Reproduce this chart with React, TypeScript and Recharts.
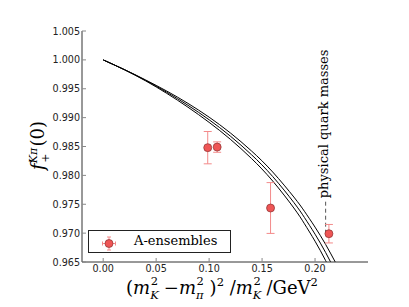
import { ComposedChart, Line, Scatter, ErrorBar, XAxis, YAxis, ReferenceLine } from 'recharts';

// lattice fit band (upper / central / lower)
const xGrid = [0, 0.02, 0.04, 0.06, 0.08, 0.1, 0.12, 0.14, 0.16, 0.18, 0.19, 0.2, 0.21, 0.22];
const fitUpper = [1.0, 0.99833, 0.99653, 0.9946, 0.99247, 0.99008, 0.98736, 0.98423, 0.98059, 0.97625, 0.97378, 0.97104, 0.96804, 0.96469];
const fitCentral = [1.0, 0.99831, 0.99645, 0.9944, 0.99214, 0.98963, 0.98681, 0.98358, 0.97981, 0.9753, 0.9727, 0.96982, 0.96664, 0.96309];
const fitLower = [1.0, 0.99829, 0.99637, 0.9942, 0.99181, 0.98918, 0.98626, 0.98293, 0.97903, 0.97435, 0.97162, 0.9686, 0.96524, 0.96149];

// A-ensembles
const ensX = [0.0987, 0.1076, 0.158, 0.2131];
const ensF = [0.9848, 0.9849, 0.97435, 0.9699];
const ensErr = [0.0028, 0.0009, 0.0044, 0.0016];

const xTicks = [0, 0.05, 0.1, 0.15, 0.2];
const yTicks = [0.965, 0.97, 0.975, 0.98, 0.985, 0.99, 0.995, 1.0, 1.005];

const physX = 0.21;
const physRange = [0.9699, 0.9757];

const curveRows = xGrid.map((x, i) => ({ x, upper: fitUpper[i], mid: fitCentral[i], lower: fitLower[i] }));
const ensRows = ensX.map((x, i) => ({ x, y: ensF[i], err: ensErr[i] }));

const TICK_COLOR = '#888';
const FRAME = '#333';
const tickFont = { fontFamily: 'DejaVu Sans', fontSize: 9.6, fill: '#222' };
const serif = 'DejaVu Serif';

const LeftTick = ({ x, y, payload }: any) => (
  <g>
    <line x1={x} x2={x + 4} y1={y} y2={y} stroke={TICK_COLOR} />
    <text x={x - 2} y={y + 3.5} textAnchor="end" {...tickFont}>
      {payload.value.toFixed(3)}
    </text>
  </g>
);

const BottomTick = ({ x, y, payload }: any) => (
  <g>
    <line x1={x} x2={x} y1={y} y2={y - 4} stroke={TICK_COLOR} />
    <text x={x} y={y + 10} textAnchor="middle" {...tickFont}>
      {payload.value.toFixed(2)}
    </text>
  </g>
);

const TopTick = ({ x, y }: any) => <line x1={x} x2={x} y1={y} y2={y + 4} stroke={TICK_COLOR} />;
const RightTick = ({ x, y }: any) => <line x1={x} x2={x - 4} y1={y} y2={y} stroke={TICK_COLOR} />;

// m with stacked sub/superscript, mathtext style
const XLabel = ({ viewBox }: any) => {
  const cx = viewBox.x + viewBox.width / 2 - 3;
  const by = viewBox.y + 32;
  const small = 11.5;
  return (
    <text x={cx} y={by} textAnchor="middle" fontFamily={serif} fontSize={18} fill="#000">
      (<tspan fontStyle="italic">m</tspan>
      <tspan fontSize={small} fontStyle="italic" dy={5}>K</tspan>
      <tspan fontSize={small} dx={-8} dy={-14}>2</tspan>
      <tspan dy={9}> −</tspan>
      <tspan fontStyle="italic">m</tspan>
      <tspan fontSize={small} fontStyle="italic" dy={5}>π</tspan>
      <tspan fontSize={small} dx={-7} dy={-14}>2</tspan>
      <tspan dy={9}> )</tspan>
      <tspan fontSize={small} dy={-8}>2</tspan>
      <tspan dy={8}> /</tspan>
      <tspan fontStyle="italic">m</tspan>
      <tspan fontSize={small} fontStyle="italic" dy={5}>K</tspan>
      <tspan fontSize={small} dx={-8} dy={-14}>2</tspan>
      <tspan dy={9}> /GeV</tspan>
      <tspan fontSize={small} dy={-8}>2</tspan>
    </text>
  );
};

const YLabel = ({ viewBox }: any) => {
  const bx = 44;
  const cy = viewBox.y + viewBox.height / 2 - 1;
  const small = 11;
  return (
    <text
      x={bx}
      y={cy}
      transform={`rotate(-90 ${bx} ${cy})`}
      textAnchor="middle"
      fontFamily={serif}
      fontSize={18}
      fill="#000"
    >
      <tspan fontStyle="italic">f</tspan>
      <tspan fontSize={small} fontStyle="italic" dy={-7}>Kπ</tspan>
      <tspan fontSize={small} dx={-15} dy={12}>+</tspan>
      <tspan dx={7} dy={-5}>(0)</tspan>
    </text>
  );
};

const PhysLabel = ({ viewBox }: any) => {
  const tx = viewBox.x + 2.5;
  const ty = viewBox.y - 2;
  return (
    <text
      x={tx}
      y={ty}
      transform={`rotate(-90 ${tx} ${ty})`}
      textAnchor="start"
      fontFamily={serif}
      fontSize={13}
      fill="#000"
    >
      physical quark masses
    </text>
  );
};

const EnsDot = ({ cx, cy }: any) => <circle cx={cx} cy={cy} r={4} fill="#ef5555" stroke="#8a3030" strokeWidth={0.7} />;

export default function App() {
  return (
    <div style={{ position: 'relative', width: 409, height: 307 }}>
      <style>{`body{margin:0;}`}</style>
      <ComposedChart width={409} height={307} data={curveRows} margin={{ top: 31, right: 41, bottom: 0, left: 0 }}>
        <XAxis
          dataKey="x"
          type="number"
          domain={[-0.02, 0.25]}
          ticks={xTicks}
          allowDataOverflow
          height={45}
          tickSize={0}
          tickMargin={0}
          tick={<BottomTick />}
          axisLine={{ stroke: FRAME }}
          label={<XLabel />}
        />
        <XAxis
          xAxisId="top"
          dataKey="x"
          type="number"
          orientation="top"
          domain={[-0.02, 0.25]}
          ticks={xTicks}
          allowDataOverflow
          height={0}
          tickSize={0}
          tickMargin={0}
          tick={<TopTick />}
          axisLine={{ stroke: FRAME }}
        />
        <YAxis
          type="number"
          domain={[0.965, 1.005]}
          ticks={yTicks}
          allowDataOverflow
          width={82}
          tickSize={0}
          tickMargin={0}
          tick={<LeftTick />}
          axisLine={{ stroke: FRAME }}
          label={<YLabel />}
        />
        <YAxis
          yAxisId="right"
          type="number"
          orientation="right"
          domain={[0.965, 1.005]}
          ticks={yTicks}
          allowDataOverflow
          width={0}
          tickSize={0}
          tickMargin={0}
          tick={<RightTick />}
          axisLine={{ stroke: FRAME }}
        />
        <Line xAxisId="top" yAxisId="right" dataKey="mid" stroke="none" dot={false} isAnimationActive={false} />
        <Line type="natural" dataKey="upper" stroke="#000" strokeWidth={1} dot={false} isAnimationActive={false} />
        <Line type="natural" dataKey="mid" stroke="#000" strokeWidth={1} dot={false} isAnimationActive={false} />
        <Line type="natural" dataKey="lower" stroke="#000" strokeWidth={1} dot={false} isAnimationActive={false} />
        <ReferenceLine
          segment={[
            { x: physX, y: physRange[0] },
            { x: physX, y: physRange[1] },
          ]}
          stroke="#555"
          strokeDasharray="4 3"
          label={PhysLabel}
        />
        <Scatter data={ensRows} dataKey="y" shape={<EnsDot />} isAnimationActive={false}>
          <ErrorBar dataKey="err" direction="y" width={4} stroke="#f38a8a" strokeWidth={1} />
        </Scatter>
      </ComposedChart>
      <div
        style={{
          position: 'absolute',
          left: 88,
          top: 230,
          width: 141,
          height: 21,
          border: '1px solid #222',
          background: '#fff',
        }}
      >
        <svg width={40} height={21} style={{ position: 'absolute', left: 0, top: 0 }}>
          <line x1={13.5} x2={26.5} y1={12.5} y2={12.5} stroke="#f38a8a" />
          <line x1={20} x2={20} y1={6} y2={19} stroke="#f38a8a" />
          <line x1={13.5} x2={13.5} y1={10.5} y2={14.5} stroke="#f38a8a" />
          <line x1={26.5} x2={26.5} y1={10.5} y2={14.5} stroke="#f38a8a" />
          <line x1={18} x2={22} y1={6} y2={6} stroke="#f38a8a" />
          <line x1={18} x2={22} y1={19} y2={19} stroke="#f38a8a" />
          <circle cx={20} cy={12.5} r={4} fill="#ef5555" stroke="#8a3030" strokeWidth={0.7} />
        </svg>
        <span
          style={{
            position: 'absolute',
            left: 45,
            top: 1,
            fontFamily: serif,
            fontSize: 13,
            lineHeight: '18px',
            color: '#000',
            whiteSpace: 'nowrap',
          }}
        >
          A-ensembles
        </span>
      </div>
    </div>
  );
}
